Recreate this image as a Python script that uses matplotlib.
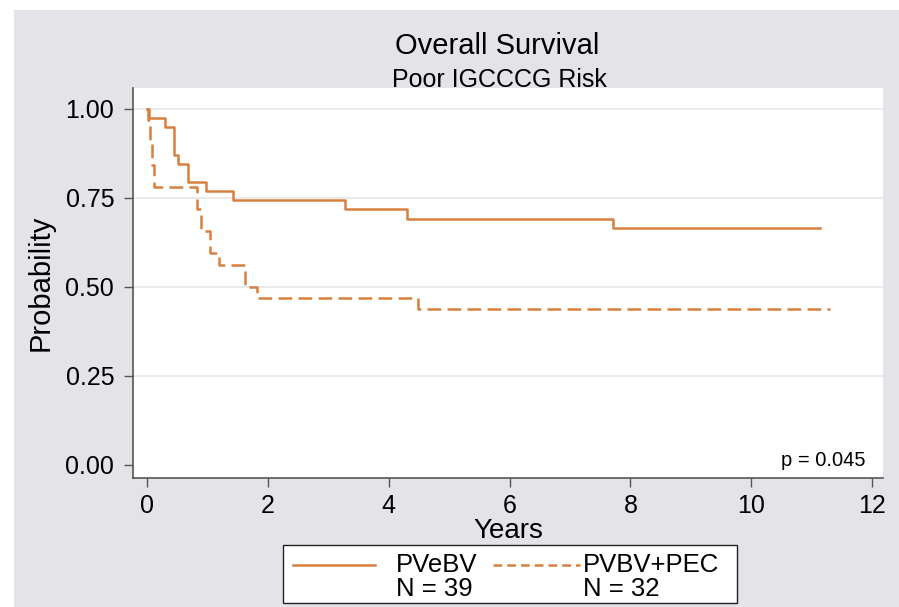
import matplotlib.pyplot as plt
from matplotlib.lines import Line2D
from matplotlib.patches import Rectangle

plt.rcParams['font.family'] = ['Liberation Sans', 'DejaVu Sans']

# Kaplan-Meier step values
pvebv_years = [0, 0.03, 0.30, 0.45, 0.52, 0.68, 0.98, 1.42, 3.28, 4.30, 7.72, 11.14]
pvebv_surv = [1.0, 0.974, 0.949, 0.872, 0.846, 0.795, 0.769, 0.744, 0.718, 0.692, 0.665, 0.665]

pvbv_years = [0, 0.02, 0.05, 0.08, 0.12, 0.83, 0.90, 1.04, 1.20, 1.63, 1.83, 4.49, 11.30]
pvbv_surv = [1.0, 0.969, 0.906, 0.844, 0.781, 0.719, 0.656, 0.594, 0.562, 0.500, 0.469, 0.438, 0.438]

x_ticks = [0, 2, 4, 6, 8, 10, 12]
y_ticks = [0.0, 0.25, 0.5, 0.75, 1.0]
y_labels = ['0.00', '0.25', '0.50', '0.75', '1.00']

groups = ['PVeBV', 'PVBV+PEC']
group_n = [39, 32]

orange = '#D8803F'
bg = '#E4E4E8'

fig = plt.figure(figsize=(8.99, 6.07), dpi=100, facecolor='white')
W, H = 899, 607


def fx(px):
    return px / W


def fy(py):
    return 1 - py / H


fig.patches.append(Rectangle((fx(14), 0), 1 - fx(14), fy(10),
                             transform=fig.transFigure, facecolor=bg,
                             edgecolor='none', zorder=-10))

ax = fig.add_axes([fx(133), fy(478), 750 / W, 390 / H])
ax.set_facecolor('white')

ax.plot(pvebv_years, pvebv_surv, drawstyle='steps-post', color=orange, lw=1.8)
ax.plot(pvbv_years, pvbv_surv, drawstyle='steps-post', color=orange, lw=1.8,
        linestyle=(0, (5.5, 2.5)))

ax.set_xlim(-0.23, 12.18)
ax.set_ylim(-0.037, 1.059)
ax.set_xticks(x_ticks)
ax.set_yticks(y_ticks)
ax.set_yticklabels(y_labels)
for y in y_ticks[1:]:
    ax.axhline(y, color='#E6E6E6', lw=1.2, zorder=0)

for s in ['top', 'right']:
    ax.spines[s].set_visible(False)
for s in ['left', 'bottom']:
    ax.spines[s].set_color('#555555')
    ax.spines[s].set_linewidth(1.2)
ax.tick_params(axis='both', labelsize=18, color='#555555', length=6.5, width=1.0)
ax.tick_params(axis='x', pad=5)
ax.tick_params(axis='y', pad=7)

ax.set_xlabel('Years', fontsize=20, labelpad=0)
ax.set_ylabel('Probability', fontsize=21, labelpad=8)

ax.text(0.977, 0.02, 'p = 0.045', transform=ax.transAxes, ha='right',
        va='bottom', fontsize=14.5)

fig.text(fx(497), fy(46), 'Overall Survival', ha='center', va='center',
         fontsize=21)
fig.text(fx(499), fy(80), 'Poor IGCCCG Risk', ha='center', va='center',
         fontsize=18)

# legend box drawn by hand so the keys sit on the first text line
fig.patches.append(Rectangle((fx(283), fy(603)), 454 / W, 58 / H,
                             transform=fig.transFigure, facecolor='white',
                             edgecolor='#222222', lw=1.0, zorder=5))
key_styles = ['-', (0, (3.5, 2))]
key_x = [(293, 375), (493, 580)]
text_x = [396, 583]
for name, n, ls, (x0, x1), tx in zip(groups, group_n, key_styles, key_x, text_x):
    fig.add_artist(Line2D([fx(x0), fx(x1)], [fy(565), fy(565)], color=orange,
                          lw=1.8, linestyle=ls, transform=fig.transFigure,
                          zorder=6))
    fig.text(fx(tx), fy(565), name, ha='left', va='center', fontsize=18.5,
             zorder=6)
    fig.text(fx(tx), fy(589), 'N = %d' % n, ha='left', va='center',
             fontsize=18.5, zorder=6)

fig.savefig('out.png', dpi=100, facecolor=fig.get_facecolor())
